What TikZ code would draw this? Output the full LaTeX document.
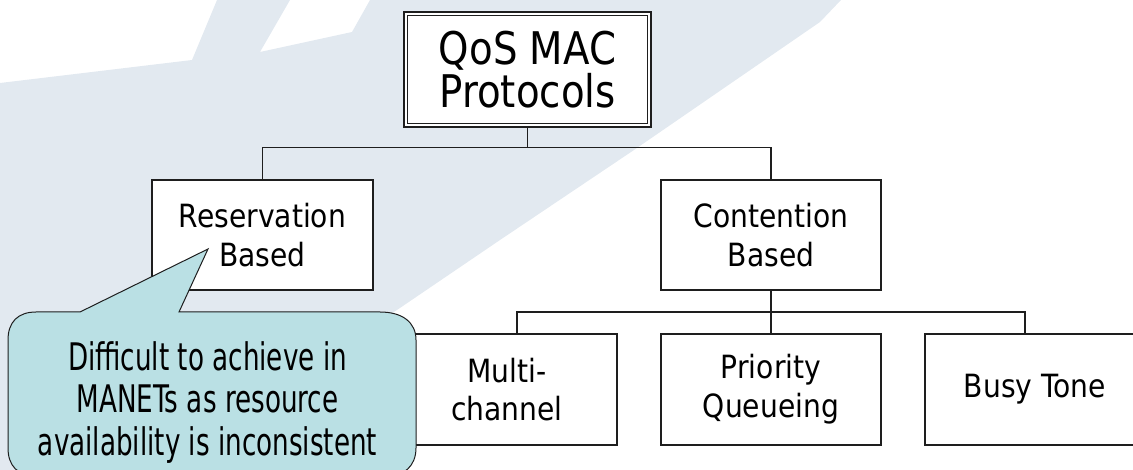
\documentclass[tikz,border=0pt]{standalone}
\usepackage{fontspec}
\setmainfont{DejaVu Sans}
\newfontfamily\boxfont[FakeStretch=0.88]{DejaVu Sans}
\newfontfamily\titlefont[FakeStretch=0.86]{DejaVu Sans}
\newfontfamily\notefont[FakeStretch=0.69]{DejaVu Sans}
\usetikzlibrary{calc}
\definecolor{wmark}{HTML}{E2E9F0}
\definecolor{notefill}{HTML}{BAE0E4}
\definecolor{edge}{HTML}{1E1E1E}

\begin{document}
\begin{tikzpicture}[x=1pt,y=-1pt,
  box/.style={draw=edge, line width=1.2pt, fill=white, inner sep=0pt, align=center,
    minimum width=220pt, minimum height=110pt,
    font=\boxfont\fontsize{32}{38.7}\selectfont},
  link/.style={draw=edge, line width=1.2pt},
  note/.style={fill=notefill, draw=edge, line width=1pt}]
\useasboundingbox (0,0) rectangle (1133,470);
\begin{scope}
\clip (0,0) rectangle (1133,470);

% faint logo in the background
\fill[wmark] (0,83) -- (192,60) -- (217,0) -- (290,0) -- (260,52) -- (352,32)
  -- (370,0) -- (841,0) -- (820,22) -- (634,150) -- (500,240) -- (397,310)
  -- (300,370) -- (200,470) -- (0,470) -- cycle;

% tree nodes
\node[box, minimum width=247pt, minimum height=115pt, line width=1.8pt,
  font=\titlefont\fontsize{45}{43}\selectfont] (top) at (527.5,69.5) {QoS MAC\\Protocols};
\draw[draw=edge, line width=0.9pt] ([shift={(4.5,4.5)}]top.north west)
  rectangle ([shift={(-4.5,-4.5)}]top.south east);

\node[box, minimum width=221pt] (resv) at (262.5,235) {Reservation\\Based};
\node[box] (cont) at (771,235) {Contention\\Based};
\node[box, minimum height=111pt] (multi) at (507,389.5) {Multi-\\channel};
\node[box, minimum height=111pt] (prio) at (771,389.5) {Priority\\Queueing};
\node[box, minimum height=111pt] (busy) at (1035,389.5) {Busy Tone};

% connectors
\draw[link] (top.south) -- ++(0,19.5) coordinate (tb);
\draw[link] (resv.north) |- (tb) -| (cont.north);
\draw[link] (cont.south) -- (prio.north);
\coordinate (bj) at ($(cont.south)!0.5!(prio.north)$);
\coordinate (mIn) at ([xshift=10pt]multi.north);
\coordinate (bIn) at ([xshift=-10pt]busy.north);
\draw[link] (mIn) |- (bj) -| (bIn);

% callout balloon pointing into the reservation box
\coordinate (tip) at (208,249);
\draw[note] (8,448) -- (8,340) .. controls (8,322) and (18,312) .. (36,312)
  -- (80,312) -- (tip) -- (179,312) -- (380,312)
  .. controls (402,312) and (416,322) .. (416,340) -- (416,448)
  .. controls (416,466) and (404,476) .. (388,476) -- (36,476)
  .. controls (18,476) and (8,466) .. (8,448) -- cycle;
\node[font=\notefont\fontsize{38}{42.5}\selectfont, align=center, inner sep=0pt]
  (notetext) at (207.5,402.5)
  {Difficult to achieve in\\MANETs as resource\\availability is inconsistent};
\end{scope}
\end{tikzpicture}
\end{document}
